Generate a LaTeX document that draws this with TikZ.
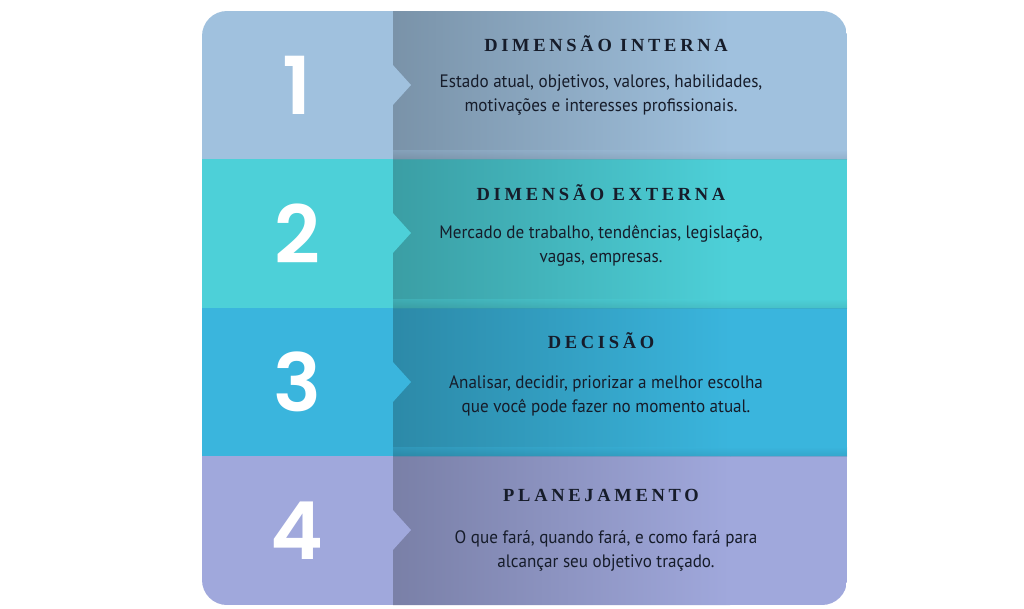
\documentclass[tikz,border=0pt]{standalone}
\usepackage{fontspec}
\setmainfont{PT Sans}
\newfontfamily\numfont{Poppins SemiBold}
\newfontfamily\titlefont{Liberation Serif}[LetterSpace=20]
\newfontfamily\bodyfont{PT Sans}[FakeStretch=0.95]
\definecolor{rowA}{RGB}{160,193,222}
\definecolor{rowB}{RGB}{77,208,216}
\definecolor{rowC}{RGB}{58,181,221}
\definecolor{rowD}{RGB}{160,168,220}
\definecolor{ink}{RGB}{22,28,42}
\tikzset{
  x=1pt, y=-1pt,
  num/.style={text=white, font=\numfont\fontsize{80}{80}\selectfont, inner sep=0pt},
  ttl/.style={text=ink, font=\titlefont\bfseries\fontsize{18.5}{20}\selectfont, inner sep=0pt},
  body/.style={text=ink, font=\bodyfont\fontsize{18}{24}\selectfont, align=center, inner sep=0pt},
}
\begin{document}
\begin{tikzpicture}
\useasboundingbox (0,0) rectangle (1024,608);
\fill[white] (0,0) rectangle (1024,608);
\begin{scope}
\clip[rounded corners=25pt] (202,11) rectangle (847,605);
% rows
\fill[rowA] (202,11) rectangle (847,159);
\fill[rowB] (202,159) rectangle (847,308);
\fill[rowC] (202,308) rectangle (847,456);
\fill[rowD] (202,456) rectangle (847,605);
% overlay gradients
\shade[left color=rowA!76!black, right color=rowA] (393,11) rectangle (730,159);
\shade[left color=rowB!76!black, right color=rowB] (393,159) rectangle (730,308);
\shade[left color=rowC!76!black, right color=rowC] (393,308) rectangle (730,456);
\shade[left color=rowD!76!black, right color=rowD] (393,456) rectangle (730,605);
% shadows at boundaries
\shade[top color=rowA, bottom color=rowA!75!black, opacity=0.3] (393,150) rectangle (847,159);
\shade[top color=rowB, bottom color=rowB!75!black, opacity=0.3] (393,299) rectangle (847,308);
\shade[top color=rowC, bottom color=rowC!75!black, opacity=0.3] (393,447) rectangle (847,456);
% notches
\fill[rowA] (392,64) -- (411,85) -- (392,106) -- cycle;
\fill[rowB] (392,212) -- (411,233) -- (392,254) -- cycle;
\fill[rowC] (392,361) -- (411,382) -- (392,403) -- cycle;
\fill[rowD] (392,509) -- (411,530) -- (392,551) -- cycle;
\end{scope}
% numbers
\node[num] (n1) at (297,85) {1};
\node[num] (n2) at (297,234) {2};
\node[num] (n3) at (297,382) {3};
\node[num] (n4) at (297,531) {4};
% titles
\node[ttl] (t1) at (606,44) {DIMENSÃO INTERNA};
\node[ttl] (t2) at (601,193) {DIMENSÃO EXTERNA};
\node[ttl] (t3) at (601,341) {DECISÃO};
\node[ttl] (t4) at (601,495) {PLANEJAMENTO};
% bodies
\node[body] (b1) at (601,95) {Estado atual, objetivos, valores, habilidades,\\motivações e interesses profissionais.};
\node[body] (b2) at (601,246) {Mercado de trabalho, tendências, legislação,\\vagas, empresas.};
\node[body] (b3) at (606,396) {Analisar, decidir, priorizar a melhor escolha\\que você pode fazer no momento atual.};
\node[body] (b4) at (606,551) {O que fará, quando fará, e como fará para\\alcançar seu objetivo traçado.};
\end{tikzpicture}
\end{document}
